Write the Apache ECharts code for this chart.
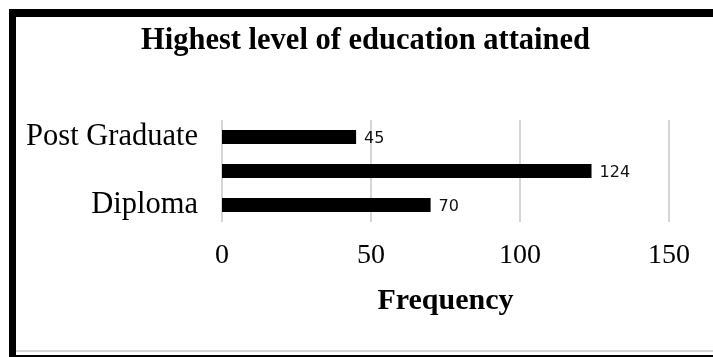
<!DOCTYPE html>
<html>
<head>
<meta charset="utf-8">
<script src="https://cdn.jsdelivr.net/npm/echarts@6/dist/echarts.min.js"></script>
<style>
  html, body { margin: 0; padding: 0; background: #fff; }
  #chart { width: 713px; height: 357px; }
</style>
</head>
<body>
<div id="chart"></div>
<script>
// Education levels, bottom to top
const categories = ['Diploma', '', 'Post Graduate'];
const frequencies = [70, 124, 45];
const axisTicks = [0, 50, 100, 150];

const chart = echarts.init(document.getElementById('chart'));

const serif = '"Liberation Serif", "Times New Roman", serif';

chart.setOption({
  backgroundColor: '#ffffff',
  animation: false,
  title: {
    text: 'Highest level of education attained',
    left: 136,
    top: 21,
    textStyle: {
      fontFamily: serif,
      fontWeight: 'bold',
      fontSize: 30.5,
      color: '#000'
    }
  },
  grid: {
    left: 222,
    right: 44,
    top: 120,
    bottom: 135
  },
  xAxis: {
    type: 'value',
    min: axisTicks[0],
    max: axisTicks[axisTicks.length - 1],
    interval: axisTicks[1] - axisTicks[0],
    name: 'Frequency',
    nameLocation: 'middle',
    nameGap: 64,
    nameTextStyle: {
      fontFamily: serif,
      fontWeight: 'bold',
      fontSize: 30,
      color: '#000'
    },
    axisLine: { show: false },
    axisTick: { show: false },
    axisLabel: {
      margin: 20,
      fontFamily: serif,
      fontSize: 28,
      color: '#000'
    },
    splitLine: {
      show: true,
      lineStyle: { color: '#d6d6d6', width: 2 }
    }
  },
  yAxis: {
    type: 'category',
    data: categories,
    axisLine: { show: false },
    axisTick: { show: false },
    axisLabel: {
      margin: 24,
      fontFamily: serif,
      fontSize: 30.5,
      color: '#000'
    }
  },
  series: [{
    type: 'bar',
    data: frequencies,
    barWidth: 14,
    itemStyle: { color: '#000' },
    label: {
      show: true,
      position: 'right',
      distance: 8,
      offset: [0, 2],
      fontFamily: '"DejaVu Sans", Verdana, sans-serif',
      fontSize: 16,
      color: '#111'
    }
  }],
  graphic: [
    // frame: heavy top and left edges, thin rules along the bottom
    { type: 'rect', shape: { x: 9, y: 9, width: 704, height: 8 }, style: { fill: '#000' }, silent: true },
    { type: 'rect', shape: { x: 9, y: 9, width: 7, height: 348 }, style: { fill: '#000' }, silent: true },
    { type: 'rect', shape: { x: 16, y: 350, width: 697, height: 2 }, style: { fill: '#d6d6d6' }, silent: true },
    { type: 'rect', shape: { x: 16, y: 355, width: 697, height: 2 }, style: { fill: '#000' }, silent: true }
  ]
});
</script>
</body>
</html>
